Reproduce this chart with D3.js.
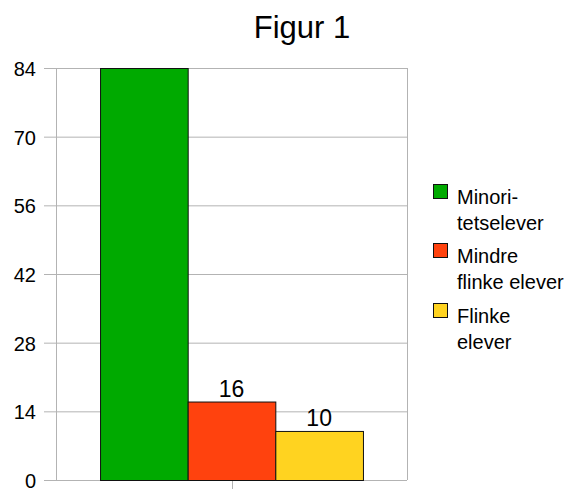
<!DOCTYPE html>
<html>
<head>
<meta charset="utf-8">
<script src="https://cdn.jsdelivr.net/npm/d3@7"></script>
<style>
  html, body { margin: 0; padding: 0; background: #fff; }
  svg { display: block; font-family: "Liberation Sans", Arial, sans-serif; }
</style>
</head>
<body>
<svg id="chart" width="572" height="489"></svg>
<script>
const title = "Figur 1";
const categories = [""];
const seriesNames = [["Minori-", "tetselever"], ["Mindre", "flinke elever"], ["Flinke", "elever"]];
const seriesValues = [84, 16, 10];
const valueLabels = ["", "16", "10"];
const seriesColors = ["#00aa00", "#ff420e", "#ffd320"];
const yTicks = [0, 14, 28, 42, 56, 70, 84];

const svg = d3.select("#chart");
const plot = { left: 56, right: 407, top: 68, bottom: 480 };

const x0 = d3.scaleBand().domain(categories).range([plot.left, plot.right]).paddingInner(0).paddingOuter(0.1675);
const x1 = d3.scaleBand().domain(d3.range(seriesValues.length)).range([0, x0.bandwidth()]);
const y = d3.scaleLinear().domain([0, 84]).range([plot.bottom, plot.top]);

// grid
svg.append("g").selectAll("line").data(yTicks).join("line")
  .attr("x1", plot.left - 12).attr("x2", plot.right)
  .attr("y1", d => y(d) + 0.5).attr("y2", d => y(d) + 0.5)
  .attr("stroke", "#b3b3b3").attr("stroke-width", 1);
svg.append("g").selectAll("line").data([plot.left, plot.right]).join("line")
  .attr("x1", d => d + 0.5).attr("x2", d => d + 0.5)
  .attr("y1", plot.top).attr("y2", plot.bottom)
  .attr("stroke", "#b3b3b3").attr("stroke-width", 1);
// bottom category tick
categories.forEach(c => {
  const cx = Math.round(x0(c) + x0.bandwidth() / 2) + 0.5;
  svg.append("line").attr("x1", cx).attr("x2", cx)
    .attr("y1", plot.bottom).attr("y2", plot.bottom + 10)
    .attr("stroke", "#b3b3b3");
});

// y labels
svg.append("g").selectAll("text").data(yTicks).join("text")
  .attr("x", 36).attr("y", d => y(d) + 8)
  .attr("text-anchor", "end").attr("font-size", 20).attr("fill", "#000")
  .text(d => d);

// bars
const g = svg.append("g").attr("transform", `translate(${x0(categories[0])},0)`);
g.selectAll("rect").data(seriesValues).join("rect")
  .attr("x", (d, i) => x1(i) + 0.5)
  .attr("y", d => y(d) + 0.5)
  .attr("width", x1.bandwidth())
  .attr("height", d => y(0) - y(d))
  .attr("fill", (d, i) => seriesColors[i])
  .attr("stroke", "#111").attr("stroke-width", 1);
g.selectAll("text").data(seriesValues).join("text")
  .attr("x", (d, i) => x1(i) + x1.bandwidth() / 2)
  .attr("y", d => y(d) - 5)
  .attr("text-anchor", "middle").attr("font-size", 23).attr("fill", "#000")
  .text((d, i) => valueLabels[i]);

// title
svg.append("text").attr("x", 302).attr("y", 38)
  .attr("text-anchor", "middle").attr("font-size", 31).attr("fill", "#000")
  .text(title);

// legend
const legendTops = [204, 263, 323];
const lg = svg.append("g");
seriesNames.forEach((lines, i) => {
  lg.append("rect").attr("x", 433.5).attr("y", legendTops[i] - 19.5)
    .attr("width", 14).attr("height", 14)
    .attr("fill", seriesColors[i]).attr("stroke", "#111");
  lines.forEach((t, j) => {
    lg.append("text").attr("x", 457).attr("y", legendTops[i] + j * 26)
      .attr("font-size", 20).attr("fill", "#000").text(t);
  });
});
</script>
</body>
</html>
